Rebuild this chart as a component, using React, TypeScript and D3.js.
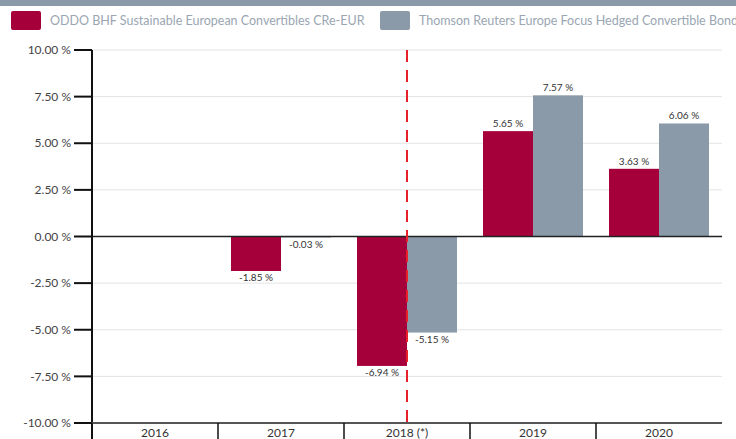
import React from "react";
import * as d3 from "d3";

const categories = ["2016", "2017", "2018 (*)", "2019", "2020"];
const seriesNames = [
  "ODDO BHF Sustainable European Convertibles CRe-EUR",
  "Thomson Reuters Europe Focus Hedged Convertible Bond Index",
];
const oddoValues: (number | null)[] = [null, -1.85, -6.94, 5.65, 3.63];
const thomsonValues: (number | null)[] = [null, -0.03, -5.15, 7.57, 6.06];
const yTicks = [10, 7.5, 5, 2.5, 0, -2.5, -5, -7.5, -10];
const markerCategory = "2018 (*)";

const colors = ["#a5003a", "#8a9aa8"];
const W = 736;
const H = 439;
const font = "Lato, 'Open Sans', sans-serif";

export default function App() {
  const x = d3.scaleBand<string>().domain(categories).range([92, 722]).paddingInner(0).paddingOuter(0);
  const y = d3.scaleLinear().domain([-10, 10]).range([423, 50]);
  const inner = d3.scaleBand<string>().domain(["a", "b"]).range([0, x.bandwidth()]).paddingOuter(0.26).paddingInner(0);
  const series = [oddoValues, thomsonValues];
  const fmt = (v: number) => v.toFixed(2) + " %";
  const markerX = (x(markerCategory) as number) + (inner("b") as number);

  return (
    <svg width={W} height={H} style={{ position: "absolute", left: 0, top: 0, display: "block", background: "#fff" }}>
      <rect x={0} y={0} width={W} height={6} fill="#8a9aa8" />
      {/* legend */}
      {seriesNames.map((n, i) => {
        const lx = i === 0 ? 11 : 380;
        return (
          <g key={n}>
            <rect x={lx} y={11} width={30} height={19} rx={2} fill={colors[i]} />
            <text x={lx + 39} y={24.5} fontFamily={font} fontSize={12.5} fill="#9aa6b2">{n}</text>
          </g>
        );
      })}
      {/* gridlines */}
      {yTicks.map((t) => (
        <line key={"g" + t} x1={92} x2={722} y1={y(t)} y2={y(t)} stroke="#e3e3e3" strokeWidth={1} />
      ))}
      {/* bars */}
      {categories.map((c, ci) =>
        series.map((s, si) => {
          const v = s[ci];
          if (v === null) return null;
          const bx = (x(c) as number) + (inner(si === 0 ? "a" : "b") as number);
          const bw = inner.bandwidth();
          const y0 = y(0);
          const y1 = y(v);
          return (
            <g key={c + si}>
              <rect x={bx} y={Math.min(y0, y1)} width={bw} height={Math.max(Math.abs(y1 - y0), 1)} fill={colors[si]} />
              <text
                x={bx + bw / 2}
                y={v >= 0 ? y1 - 4 : Math.max(y1, y0 + 1) + 10}
                textAnchor="middle"
                fontFamily={font}
                fontSize={10}
                fill="#333"
              >
                {fmt(v)}
              </text>
            </g>
          );
        })
      )}
      {/* zero line */}
      <line x1={92} x2={722} y1={y(0)} y2={y(0)} stroke="#222" strokeWidth={1.5} />
      {/* dashed marker */}
      <line x1={markerX} x2={markerX} y1={50} y2={423} stroke="#e8202a" strokeWidth={2} strokeDasharray="12,8" />
      {/* y axis */}
      <line x1={92} x2={92} y1={50} y2={H} stroke="#111" strokeWidth={2} />
      {yTicks.map((t) => (
        <g key={"t" + t}>
          <line x1={74} x2={92} y1={y(t)} y2={y(t)} stroke="#111" strokeWidth={2} />
          <text x={71} y={y(t)} dy="0.35em" textAnchor="end" fontFamily={font} fontSize={12} fill="#444">
            {fmt(t)}
          </text>
        </g>
      ))}
      {/* x axis */}
      <line x1={92} x2={722} y1={423} y2={423} stroke="#555" strokeWidth={2} />
      {categories.map((c) => (
        <g key={"x" + c}>
          <line x1={x(c) as number} x2={x(c) as number} y1={423} y2={H} stroke="#111" strokeWidth={1.5} />
          <text x={(x(c) as number) + x.bandwidth() / 2} y={437} textAnchor="middle" fontFamily={font} fontSize={12} fill="#333">
            {c}
          </text>
        </g>
      ))}
    </svg>
  );
}
